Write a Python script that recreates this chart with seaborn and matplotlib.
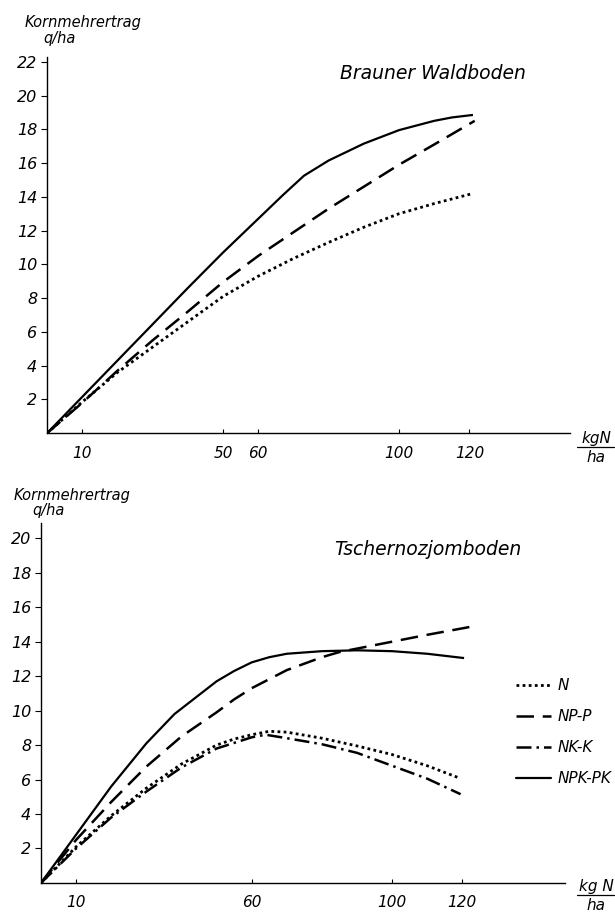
import seaborn as sns
import matplotlib.pyplot as plt
import numpy as np
import pandas as pd
from matplotlib.lines import Line2D

# Brauner Waldboden (top panel)
top_x_n = [0, 10, 20, 30, 40, 50, 60, 70, 80, 90, 100, 110, 121]
top_y_n = [0, 1.85, 3.6, 5.1, 6.6, 8.1, 9.3, 10.35, 11.3, 12.2, 13.0, 13.6, 14.2]
top_x_np = [0, 10, 20, 30, 40, 50, 60, 70, 80, 90, 100, 110, 121.5]
top_y_np = [0, 1.8, 3.7, 5.5, 7.2, 8.95, 10.5, 11.9, 13.3, 14.6, 15.9, 17.1, 18.5]
top_x_npk = [0, 10, 20, 30, 40, 50, 60, 67, 73, 80, 90, 100, 110, 115, 121]
top_y_npk = [0, 2.15, 4.3, 6.45, 8.6, 10.7, 12.7, 14.1, 15.25, 16.15, 17.15, 17.95, 18.5, 18.7, 18.85]

# Tschernozjomboden (bottom panel)
bot_x_n = [0, 10, 20, 30, 40, 50, 55, 60, 65, 70, 80, 90, 100, 110, 119]
bot_y_n = [0, 2.1, 3.9, 5.5, 6.9, 8.0, 8.35, 8.6, 8.8, 8.75, 8.4, 7.95, 7.45, 6.8, 6.1]
bot_x_np = [0, 10, 20, 30, 40, 50, 55, 60, 70, 80, 85, 90, 100, 110, 122]
bot_y_np = [0, 2.5, 4.7, 6.75, 8.5, 9.9, 10.65, 11.3, 12.35, 13.1, 13.4, 13.6, 14.0, 14.4, 14.85]
bot_x_nk = [0, 10, 20, 30, 40, 50, 60, 64, 70, 80, 90, 100, 110, 119.5]
bot_y_nk = [0, 2.0, 3.8, 5.3, 6.7, 7.8, 8.45, 8.6, 8.4, 8.05, 7.55, 6.8, 6.05, 5.15]
bot_x_npk = [0, 10, 20, 30, 38, 44, 50, 55, 60, 65, 70, 80, 90, 100, 110, 120.5]
bot_y_npk = [0, 2.8, 5.6, 8.1, 9.8, 10.75, 11.7, 12.3, 12.8, 13.1, 13.3, 13.45, 13.5, 13.45, 13.3, 13.05]

series = ["N", "NP-P", "NK-K", "NPK-PK"]
top_ticks = [10, 50, 60, 100, 120]
bot_ticks = [10, 60, 100, 120]
top_yticks = [2, 4, 6, 8, 10, 12, 14, 16, 18, 20, 22]
bot_yticks = [2, 4, 6, 8, 10, 12, 14, 16, 18, 20]


def long_df(parts):
    frames = [pd.DataFrame({"x": x, "y": y, "Variante": name}) for name, x, y in parts]
    return pd.concat(frames, ignore_index=True)


df_top = long_df([("N", top_x_n, top_y_n),
                  ("NP-P", top_x_np, top_y_np),
                  ("NPK-PK", top_x_npk, top_y_npk)])
df_bot = long_df([("N", bot_x_n, bot_y_n),
                  ("NP-P", bot_x_np, bot_y_np),
                  ("NK-K", bot_x_nk, bot_y_nk),
                  ("NPK-PK", bot_x_npk, bot_y_npk)])

sns.set_style("ticks")
plt.rcParams["font.family"] = ["DejaVu Sans"]
plt.rcParams["font.style"] = "italic"
plt.rcParams["text.color"] = "black"
plt.rcParams["xtick.color"] = "black"
plt.rcParams["ytick.color"] = "black"
plt.rcParams["xtick.labelcolor"] = "black"
plt.rcParams["ytick.labelcolor"] = "black"

dash_map = {"N": (1, 1.2), "NP-P": (7, 3.5), "NK-K": (6, 2, 1, 2), "NPK-PK": ""}
width_map = {"N": 2.0, "NP-P": 1.8, "NK-K": 1.8, "NPK-PK": 1.6}

fig = plt.figure(figsize=(6.15, 9.14), dpi=100)
ax_top = fig.add_axes([0.0764, 0.526, 0.8506, 0.412])
ax_bot = fig.add_axes([0.0667, 0.034, 0.8523, 0.394])

for ax, df in [(ax_top, df_top), (ax_bot, df_bot)]:
    for name in series:
        sub = df[df["Variante"] == name]
        if sub.empty:
            continue
        sns.lineplot(data=sub, x="x", y="y", ax=ax, color="black",
                     lw=width_map[name], sort=False, estimator=None,
                     dashes=False, legend=False)
        line = ax.lines[-1]
        if dash_map[name]:
            line.set_dashes(dash_map[name])
        line.set_solid_capstyle("butt")
        line.set_dash_capstyle("butt")
        line.set_solid_joinstyle("round")

ax_top.set_xlim(0, 148.6)
ax_top.set_ylim(0, 22.3)
ax_bot.set_xlim(0, 149.3)
ax_bot.set_ylim(0, 20.9)

for ax, xt, yt in [(ax_top, top_ticks, top_yticks), (ax_bot, bot_ticks, bot_yticks)]:
    sns.despine(ax=ax)
    ax.set_xticks(xt)
    ax.set_yticks(yt)
    ax.set_xticklabels([str(t) for t in xt], fontsize=11, fontstyle="italic", color="black")
    ax.set_yticklabels([str(t) for t in yt], fontsize=11.5, fontstyle="italic", color="black")
    ax.tick_params(axis="y", direction="out", length=4, width=0.8, pad=3, colors="black")
    ax.tick_params(axis="x", direction="in", length=3, width=0.8, pad=9, colors="black")
    for s in ["left", "bottom"]:
        ax.spines[s].set_linewidth(1.0)
        ax.spines[s].set_color("black")
    ax.set_xlabel("")
    ax.set_ylabel("")

# panel titles
ax_top.text(0.56, 0.955, "Brauner Waldboden", transform=ax_top.transAxes,
            fontsize=13.5, fontstyle="italic", ha="left", va="center", color="black")
ax_bot.text(0.56, 0.925, "Tschernozjomboden", transform=ax_bot.transAxes,
            fontsize=13.5, fontstyle="italic", ha="left", va="center", color="black")

# y axis titles
for y1, y2, x1 in [(22, 38, 83), (495, 511, 72)]:
    fig.text(x1 / 615, 1 - y1 / 914, "Kornmehrertrag", fontsize=10.5,
             fontstyle="italic", ha="center", va="center", color="black")
    fig.text((x1 - 23) / 615, 1 - y2 / 914, "q/ha", fontsize=10.5,
             fontstyle="italic", ha="center", va="center", color="black")

# x axis unit as fraction
for ytxt, ybar, ybot, lab in [(438, 447, 457, "kgN"), (886, 895, 906, "kg N")]:
    fig.text(596 / 615, 1 - ytxt / 914, lab, fontsize=11, fontstyle="italic",
             ha="center", va="center", color="black")
    fig.text(596 / 615, 1 - ybot / 914, "ha", fontsize=11, fontstyle="italic",
             ha="center", va="center", color="black")
    fig.add_artist(Line2D([577 / 615, 614 / 615], [1 - ybar / 914] * 2,
                          transform=fig.transFigure, color="black", lw=0.9))

# legend (bottom panel)
handles = []
for name in series:
    h = Line2D([0], [0], color="black", lw=width_map[name])
    if dash_map[name]:
        h.set_dashes(dash_map[name])
    handles.append(h)
leg = fig.legend(handles, series, loc="upper left", bbox_to_anchor=(516 / 615, 1 - 678 / 914),
                 frameon=False, handlelength=2.3, handletextpad=0.4,
                 labelspacing=1.05, borderpad=0, borderaxespad=0,
                 prop={"style": "italic", "size": 11})
for t in leg.get_texts():
    t.set_color("black")

fig.savefig("out.png", dpi=100)
